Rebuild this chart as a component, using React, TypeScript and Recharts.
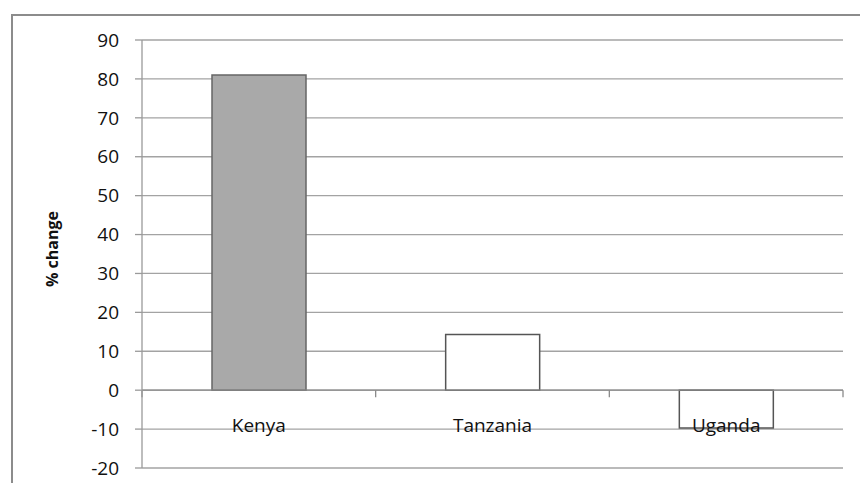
import { BarChart, Bar, Cell, XAxis, YAxis, CartesianGrid, ReferenceLine } from "recharts";

// % change by country
const COUNTRIES = ["Kenya", "Tanzania", "Uganda"];
const CHANGE = [81, 14.3, -9.7];
const Y_TICKS = [-20, -10, 0, 10, 20, 30, 40, 50, 60, 70, 80, 90];
const BOUNDARIES = [0, 1, 2, 3];

const FILLS = ["#a9a9a9", "#ffffff", "#ffffff"];
const STROKES = ["#666666", "#555555", "#555555"];

const FONT = "'Open Sans', sans-serif";

const data = COUNTRIES.map((c, i) => ({ country: c, value: CHANGE[i], pos: i + 0.5 }));

function CategoryTick({ x, y, payload }: any) {
  return (
    <text x={x} y={468} dy={-36} textAnchor="middle" fontSize={19} fontFamily={FONT} fill="#111">
      {payload.value}
    </text>
  );
}

export default function App() {
  return (
    <div style={{ position: "absolute", left: 0, top: 0, width: 860, height: 483, background: "#fff", overflow: "hidden" }}>
      <div style={{
        position: "absolute", left: 11, top: 14, width: 900, height: 520,
        border: "2px solid #8c8c8c", boxSizing: "border-box",
      }} />
      <div style={{ position: "absolute", left: 0, top: 0 }}>
        <BarChart width={860} height={483} data={data} margin={{ top: 40, right: 17, bottom: 0, left: 0 }}>
          <CartesianGrid vertical={false} stroke="#a3a3a3" strokeWidth={1.3} />
          <XAxis dataKey="country" height={15} axisLine={false} tickLine={false} tickSize={0} tickMargin={0} tick={<CategoryTick />} interval={0} />
          <XAxis xAxisId="grid" dataKey="pos" type="number" domain={[0, 3]} allowDataOverflow hide />
          <YAxis
            domain={[-20, 90]}
            ticks={Y_TICKS}
            interval={0}
            width={142}
            tickSize={7}
            tickMargin={16}
            axisLine={{ stroke: "#9a9a9a", strokeWidth: 1.3 }}
            tickLine={{ stroke: "#9a9a9a", strokeWidth: 1.3 }}
            tick={{ fontSize: 19, fontFamily: FONT, fill: "#111" }}
            label={{
              value: "% change", angle: -90, position: "insideLeft", offset: 52, dy: -5,
              style: { fontSize: 16, fontWeight: 700, fontFamily: FONT, fill: "#111", textAnchor: "middle" },
            }}
          />
          <ReferenceLine y={0} stroke="#8a8a8a" strokeWidth={1.3} />
          {BOUNDARIES.map((b) => (
            <ReferenceLine
              key={b}
              xAxisId="grid"
              segment={[{ x: b, y: 0 }, { x: b, y: -1.8 }]}
              stroke="#8a8a8a"
              strokeWidth={1.3}
              ifOverflow="visible"
            />
          ))}
          <Bar dataKey="value" barSize={94} isAnimationActive={false}>
            {data.map((d, i) => (
              <Cell key={d.country} fill={FILLS[i]} stroke={STROKES[i]} strokeWidth={1.5} />
            ))}
          </Bar>
        </BarChart>
      </div>
    </div>
  );
}
